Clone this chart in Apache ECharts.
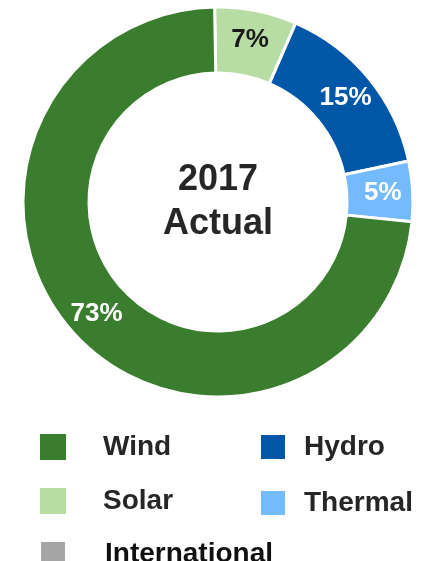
<!DOCTYPE html>
<html>
<head>
<meta charset="utf-8">
<script src="https://cdn.jsdelivr.net/npm/echarts@6/dist/echarts.min.js"></script>
<style>
  html, body { margin: 0; padding: 0; background: #ffffff; }
  #chart { width: 425px; height: 561px; }
</style>
</head>
<body>
<div id="chart"></div>
<script>
// Data (slice order clockwise from 12 o'clock)
var categories = ['Solar', 'Hydro', 'Thermal', 'Wind', 'International'];
var shares = [6.8, 15.1, 5.0, 73.1, 0];
var centerLines = ['2017', 'Actual'];
var legendOrder = ['Wind', 'Hydro', 'Solar', 'Thermal', 'International'];

// Styles
var colors = {
  Solar: '#b7dca4',
  Hydro: '#0057a8',
  Thermal: '#73baff',
  Wind: '#3a7d2e',
  International: '#a6a6a6'
};
var labelColors = {
  Solar: '#1a1a1a', Hydro: '#ffffff', Thermal: '#ffffff', Wind: '#ffffff', International: '#ffffff'
};
var legendPos = {
  Wind: [40, 433], Hydro: [261, 433], Solar: [40, 487], Thermal: [261, 489], International: [41, 540]
};

var chart = echarts.init(document.getElementById('chart'), null, { renderer: 'canvas' });

var pieData = categories.map(function (c, i) {
  var item = {
    name: c,
    value: shares[i],
    itemStyle: { color: colors[c] },
    label: { color: labelColors[c] }
  };
  if (shares[i] === 0) {
    item.label = { show: false };
    item.itemStyle.borderWidth = 0;
  }
  return item;
});

var legends = legendOrder.map(function (name) {
  return {
    data: [{ name: name, icon: 'rect' }],
    left: legendPos[name][0],
    top: legendPos[name][1],
    padding: 0,
    itemWidth: name === 'Wind' || name === 'Solar' ? 26 : 24,
    itemHeight: name === 'Wind' || name === 'Solar' ? 26 : 24,
    selectedMode: false,
    itemStyle: { borderWidth: 0 },
    textStyle: {
      fontFamily: 'Liberation Sans, Arial, sans-serif',
      fontSize: 28,
      fontWeight: 'bold',
      color: name === 'International' ? '#111111' : '#262626',
      padding: [0, 0, 6, name === 'Wind' || name === 'Solar' ? 32 : 14]
    }
  };
});
legends[4].textStyle.padding = [0, 0, 6, 35];

chart.setOption({
  animation: false,
  backgroundColor: '#ffffff',
  legend: legends,
  graphic: [{
    type: 'text',
    x: 218,
    y: 202,
    style: {
      text: centerLines.join('\n'),
      font: 'bold 36px "Liberation Sans", Arial, sans-serif',
      fill: '#262626',
      align: 'center',
      verticalAlign: 'middle',
      lineHeight: 44
    }
  }],
  series: [{
    type: 'pie',
    center: [218, 202],
    radius: [129, 195],
    startAngle: 91,
    clockwise: true,
    avoidLabelOverlap: false,
    stillShowZeroSum: false,
    itemStyle: { borderColor: '#ffffff', borderWidth: 3 },
    label: {
      show: true,
      position: 'inside',
      fontFamily: 'Liberation Sans, Arial, sans-serif',
      fontSize: 26,
      fontWeight: 'bold',
      formatter: function (p) { return Math.round(p.percent) + '%'; }
    },
    labelLine: { show: false },
    emphasis: { disabled: true },
    data: pieData
  }]
});
</script>
</body>
</html>
